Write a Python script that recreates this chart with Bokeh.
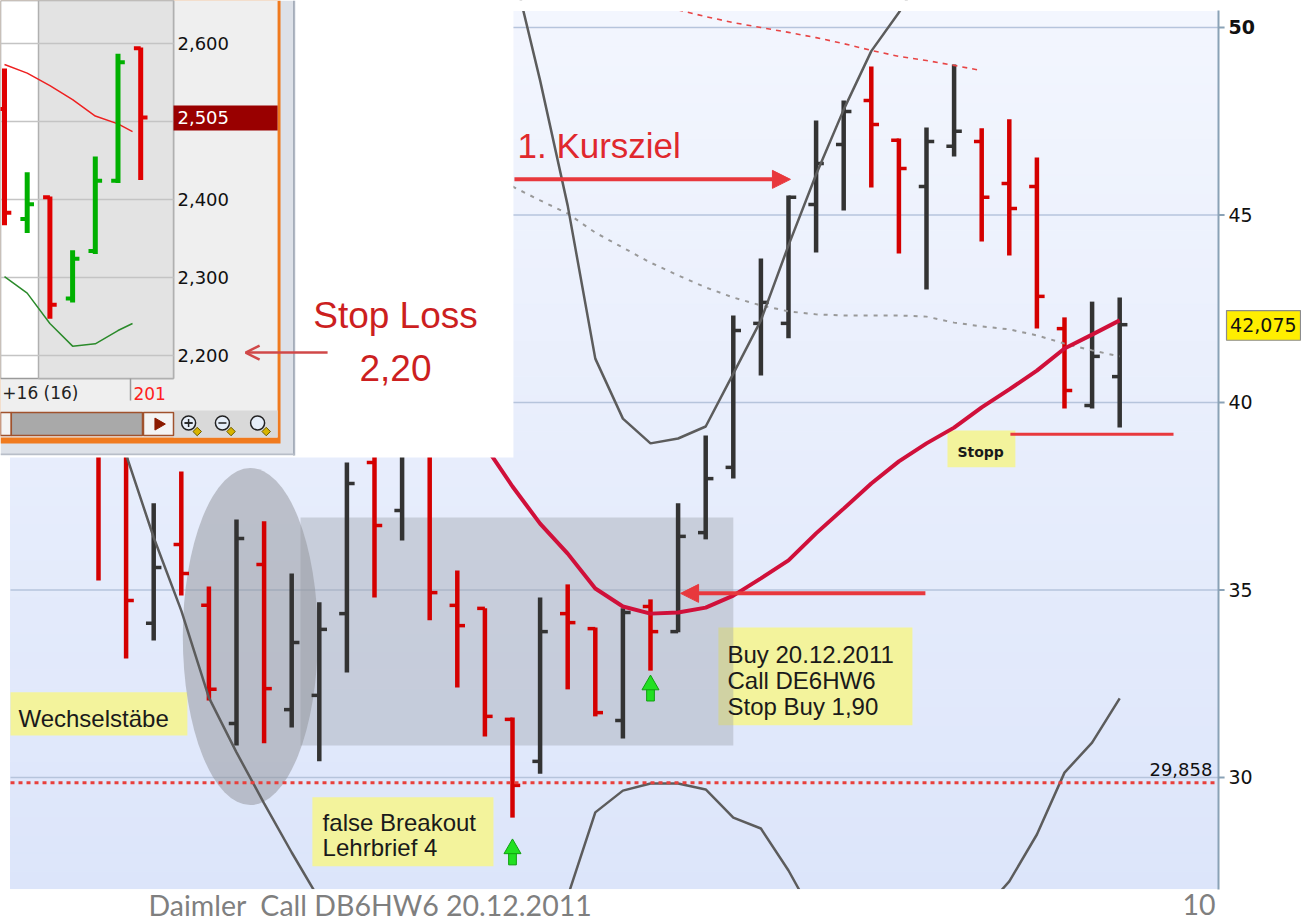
import numpy as np
from bokeh.plotting import figure
from bokeh.models import Range1d, Arrow, NormalHead, OpenHead
from bokeh.core.properties import value
from bokeh.embed import file_html
from bokeh.resources import INLINE

NaN = float("nan")

# ---------------- main chart data (daily OHLC of the call) ----------------
bar_idx = list(range(38))
bar_open = [41.0, 39.5, 34.11, 36.21, 34.59, 31.44, 35.68, 31.81, 32.19, 34.37,
            38.4, 37.12, 39.0, 34.59, 34.51, 31.55, 30.43, 34.37, 33.97, 31.52,
            34.56, 33.89, 36.53, 38.27, 42.11, 42.11, 45.28, 46.88, 48.05, 46.99,
            45.76, 46.83, 46.96, 45.84, 45.76, 41.97, 39.92, 40.69]
bar_high = [41.5, 40.0, 37.31, 38.16, 35.09, 36.88, 36.83, 35.44, 34.67, 38.4,
            39.0, 39.8, 39.6, 35.52, 34.51, 31.6, 34.8, 35.15, 34.0, 34.51,
            34.75, 37.31, 39.12, 42.32, 43.84, 45.52, 47.52, 48.05, 48.96, 47.04,
            47.33, 49.01, 47.31, 47.55, 46.53, 42.27, 42.69, 42.8]
bar_low = [35.25, 33.17, 33.65, 34.85, 32.05, 30.85, 30.91, 31.33, 30.43, 32.8,
           34.8, 36.32, 34.19, 32.4, 31.09, 28.93, 30.1, 32.35, 31.63, 31.04,
           32.85, 33.87, 36.35, 37.97, 40.72, 41.71, 44.0, 45.12, 45.73, 43.97,
           43.01, 46.56, 44.29, 43.92, 41.97, 39.84, 39.84, 39.33]
bar_close = [39.0, 34.72, 35.6, 35.44, 32.35, 36.37, 32.37, 33.6, 33.95, 37.84,
             36.72, 39.3, 34.93, 34.05, 31.63, 29.79, 33.89, 34.13, 31.73, 34.4,
             33.89, 36.43, 37.97, 41.92, 42.67, 45.47, 46.37, 47.76, 47.41, 46.24,
             46.96, 47.23, 45.47, 45.17, 42.83, 40.32, 41.23, 42.075]

# indicator lines (NaN where outside the visible picture)
bb_upper = [NaN] * 15 + [51.65, 48.59, 45.25, 41.17, 39.57, 38.91, 39.04, 39.36, 40.77,
                         42.19, 44.19, 46.08, 47.81, 49.37, 50.4, 51.6] + [NaN] * 7
bb_lower = ([NaN, 38.61, 36.4, 34.45, 32.13, 30.67, 29.31, 28.0, 26.75] + [NaN] * 8 +
            [26.83, 29.07, 29.65, 29.84, 29.84, 29.68, 28.93, 28.64, 27.52, 26.19] +
            [NaN] * 5 + [26.4, 27.23, 28.48, 30.13, 30.93, 32.11])
bb_mid = [NaN] * 14 + [38.85, 37.76, 36.77, 35.97, 35.04, 34.56, 34.37, 34.40, 34.53, 34.85,
                       35.31, 35.79, 36.51, 37.17, 37.84, 38.43, 38.91, 39.33, 39.87, 40.35,
                       40.85, 41.44, 41.81, 42.19]
ma_long = [NaN] * 15 + [45.76, 45.39, 45.04, 44.53, 44.13, 43.73, 43.39, 43.07, 42.80, 42.59,
                        42.43, 42.35, 42.32, 42.32, 42.32, 42.29, 42.13, 42.03, 41.95, 41.79,
                        41.57, 41.39, 41.23]
env_upper = [NaN] * 21 + [50.47, 50.29, 50.13, 50.0, 49.87, 49.73, 49.57, 49.39, 49.23,
                          49.12, 48.99, 48.85] + [NaN] * 5

y_ticks = [30, 35, 40, 45, 50]
y_tick_labels = ["30", "35", "40", "45", "50"]
support_level = 29.858
last_price = 42.075
stop_level = 39.15
kursziel_level = 45.95
buy_level = 34.91
signal_idx = [15, 20]
signal_price = [28.0, 32.37]

# ---------------- inset chart data (zoomed call chart) ----------------
in_idx = [0, 1, 2, 3, 4, 5, 6]
in_open = [2.516, 2.375, 2.403, 2.273, 2.334, 2.424, 2.594]
in_high = [2.568, 2.435, 2.404, 2.335, 2.455, 2.587, 2.595]
in_low = [2.367, 2.357, 2.247, 2.268, 2.330, 2.421, 2.425]
in_close = [2.383, 2.394, 2.265, 2.324, 2.424, 2.576, 2.505]
in_line_x = [0, 1, 2, 3, 4, 5, 5.64]
in_red_line = [2.573, 2.562, 2.546, 2.528, 2.507, 2.497, 2.487]
in_green_line = [2.301, 2.28, 2.241, 2.212, 2.215, 2.232, 2.241]
in_ticks = [2.6, 2.5, 2.4, 2.3, 2.2]
in_tick_labels = ["2,600", "2,500", "2,400", "2,300", "2,200"]
in_last = 2.505

# ---------------- ranges ----------------
# whole canvas in main units, and the main chart area inside it
FX0, FX1 = -3.5507, 43.587
FY0, FY1 = 26.1333, 50.72
MX0, MX1 = -3.188, 40.58
MY0, MY1 = 27.01, 50.453
# whole canvas in inset units
IX0, IX1 = -0.1762, 57.137
IY0, IY1 = 1.47308, 2.65513

p = figure(x_range=Range1d(FX0, FX1), y_range=Range1d(FY0, FY1),
           frame_width=1301, frame_height=922, min_border=0,
           x_axis_location=None, y_axis_location=None,
           toolbar_location=None, output_backend="svg")
p.extra_x_ranges = {"ix": Range1d(IX0, IX1)}
p.extra_y_ranges = {"iy": Range1d(IY0, IY1)}
p.outline_line_color = None
p.border_fill_color = "white"
p.background_fill_color = "white"
p.grid.visible = False

# gradient background of the chart area
n_b = 48
edges = np.linspace(MY0, MY1, n_b + 1)
t = (np.arange(n_b) + 0.5) / n_b
c_bot = np.array([220, 229, 250])
c_top = np.array([243, 246, 254])
bcols = ["#%02x%02x%02x" % tuple(np.round(c_bot + (c_top - c_bot) * ti).astype(int)) for ti in t]
p.quad(left=MX0, right=MX1, bottom=list(edges[:-1]), top=list(edges[1:]),
       fill_color=bcols, line_color=bcols, line_width=1)

# horizontal grid
p.segment(x0=[MX0] * len(y_ticks), y0=y_ticks, x1=[MX1] * len(y_ticks), y1=y_ticks,
          line_color="#b6c4dc", line_width=1.5)

YEL = "#f3f39c"
notes_l = [22.46, MX0, 7.75, 30.76]
notes_r = [29.49, 3.22, 14.31, 33.22]
notes_b = [31.39, 31.12, 27.63, 38.27]
notes_t = [34.0, 32.27, 29.47, 39.25]
p.quad(left=notes_l, right=notes_r, bottom=notes_b, top=notes_t, fill_color=YEL, line_color=None)

# consolidation box and ellipse
p.quad(left=[7.32], right=[23.0], bottom=[30.85], top=[36.93],
       fill_color="#a0a4ae", fill_alpha=0.42, line_color=None)
p.ellipse(x=[5.5], y=[33.76], width=[4.89], height=[8.99],
          fill_color="#909298", fill_alpha=0.5, line_color=None)

# OHLC bars
cols = ["#d40000" if c < o else "#333333" for o, c in zip(bar_open, bar_close)]
tk = 0.28
p.segment(x0=bar_idx, y0=bar_low, x1=bar_idx, y1=bar_high, line_color=cols, line_width=4.5)
p.segment(x0=[i - tk for i in bar_idx], y0=bar_open, x1=bar_idx, y1=bar_open,
          line_color=cols, line_width=3.5)
p.segment(x0=bar_idx, y0=bar_close, x1=[i + tk for i in bar_idx], y1=bar_close,
          line_color=cols, line_width=3.5)

# indicator lines
p.line(bar_idx, ma_long, line_color="#999999", line_width=2, line_dash="4 6")
p.line(bar_idx, env_upper, line_color="#e84545", line_width=1.6, line_dash="5 5")
p.line(bar_idx, bb_upper, line_color="#5c5c5c", line_width=2.5)
p.line(bar_idx, bb_lower, line_color="#5c5c5c", line_width=2.5)
p.line(bar_idx, bb_mid, line_color="#d0103a", line_width=4)

# support line and stop line
p.line([MX0, MX1], [support_level, support_level], line_color="#e8403c", line_width=3, line_dash="4 4")
p.line([33.04, 38.95], [stop_level, stop_level], line_color="#e8383d", line_width=3)

# green signal arrows
p.vbar(x=signal_idx, bottom=[v - 0.33 for v in signal_price], top=[v + 0.02 for v in signal_price],
       width=0.28, fill_color="#22e022", line_color="#10a010", line_width=1)
p.scatter(x=signal_idx, y=[v + 0.1 for v in signal_price], marker="triangle", size=17,
          fill_color="#22e022", line_color="#10a010", line_width=1)

# white masks around the chart area (top and bottom page margins)
p.quad(left=[FX0, FX0], right=[FX1, FX1], bottom=[MY1, FY0], top=[FY1, MY0],
       fill_color="white", line_color="white", line_width=1)

# right price axis
p.segment(x0=[MX1], y0=[MY0], x1=[MX1], y1=[MY1], line_color="#8aa2b6", line_width=2)
p.segment(x0=[MX1] * len(y_ticks), y0=y_ticks, x1=[MX1 + 0.22] * len(y_ticks), y1=y_ticks,
          line_color="#8aa2b6", line_width=2)
p.text(x=[MX1 + 0.36] * 4, y=y_ticks[:4], text=y_tick_labels[:4], text_font=value("DejaVu Sans"),
       text_font_size="19px", text_color="#111111", text_baseline="middle")
p.text(x=[MX1 + 0.36], y=y_ticks[4:], text=y_tick_labels[4:], text_font=value("DejaVu Sans"),
       text_font_size="19px", text_font_style="bold", text_color="#111111", text_baseline="middle")
# last price marker
p.quad(left=[40.87], right=[43.55], bottom=[41.66], top=[42.45], fill_color="#ffee00",
       line_color="#8c8c8c", line_width=1.2)
p.text(x=[41.0], y=[last_price], text=["42,075"], text_font=value("DejaVu Sans"),
       text_font_size="19px", text_color="#111111", text_baseline="middle")

FONT = value("Liberation Sans")
p.text(x=[22.79, 22.79, 22.79], y=[33.29, 32.59, 31.89],
       text=["Buy 20.12.2011", "Call DE6HW6", "Stop Buy 1,90"],
       text_font=FONT, text_font_size="24px", text_color="#1a1a1a", text_baseline="middle")
p.text(x=[-2.9], y=[31.57], text=["Wechselstäbe"], text_font=FONT, text_font_size="24px",
       text_color="#1a1a1a", text_baseline="middle")
p.text(x=[8.12, 8.12], y=[28.81, 28.12], text=["false Breakout", "Lehrbrief 4"], text_font=FONT,
       text_font_size="24px", text_color="#1a1a1a", text_baseline="middle")
p.text(x=[31.12], y=[38.69], text=["Stopp"], text_font=value("DejaVu Sans"), text_font_size="14px",
       text_font_style="bold", text_color="#1a1a1a", text_baseline="middle")
p.text(x=[40.36], y=[30.2], text=["29,858"], text_font=value("DejaVu Sans"), text_font_size="18px",
       text_color="#111111", text_baseline="middle", text_align="right")
p.text(x=[15.18], y=[46.84], text=["1. Kursziel"], text_font=FONT, text_font_size="35px",
       text_color="#e0282d", text_baseline="middle")

# footer of the slide
p.text(x=[1.81], y=[26.6], text=["Daimler\u00a0 Call DB6HW6 20.12.2011"], text_font=value("Lato"),
       text_font_size="28.5px", text_color="#7f7f7f", text_baseline="middle")
p.text(x=[40.47], y=[26.6], text=["10"], text_font=value("Lato"), text_font_size="28.5px",
       text_color="#7f7f7f", text_baseline="middle", text_align="right")

# ---------------- inset (screenshot of the call chart) ----------------
R = dict(x_range_name="ix", y_range_name="iy")
p.quad(left=[IX0], right=[22.42], bottom=[2.0692], top=[IY1], fill_color="white", line_color=None, **R)
p.quad(left=[IX0], right=[12.82], bottom=[2.0718], top=[IY1], fill_color="#dde1e8",
       line_color=None, **R)
p.segment(x0=[12.75], y0=[2.0718], x1=[12.75], y1=[IY1], line_color="#9aa3b0", line_width=1.5, **R)
p.segment(x0=[IX0], y0=[2.0735], x1=[12.75], y1=[2.0735], line_color="#b8bec8", line_width=1.5, **R)
p.quad(left=[IX0], right=[12.16], bottom=[2.0872], top=[IY1], fill_color="#f07a1e", line_color=None, **R)
p.quad(left=[IX0], right=[12.03], bottom=[2.0949], top=[IY1], fill_color="#efefef", line_color=None, **R)
p.quad(left=[IX0], right=[7.445], bottom=[2.1705], top=[IY1], fill_color="white",
       line_color="#9a9a9a", line_width=1.5, **R)
p.quad(left=[1.498], right=[7.445], bottom=[2.1705], top=[IY1], fill_color="#e3e3e3",
       line_color="#b0b0b0", line_width=1.5, **R)
p.segment(x0=[IX0] * 5, y0=in_ticks, x1=[7.445] * 5, y1=in_ticks, line_color="#c4c4c4", line_width=1.5, **R)
# toolbar strip, scrollbar, button
p.quad(left=[7.445], right=[12.03], bottom=[2.0949], top=[2.1295], fill_color="#d9d9d9", line_color=None, **R)
p.quad(left=[IX0], right=[0.3], bottom=[2.0974], top=[2.1269], fill_color="#f4f4f4",
       line_color="#a0522d", line_width=1.5, **R)
p.quad(left=[0.3], right=[6.079], bottom=[2.0974], top=[2.1269], fill_color="#a9a9a9",
       line_color="#a0522d", line_width=1.5, **R)
p.quad(left=[6.123], right=[7.445], bottom=[2.0974], top=[2.1269], fill_color="#f4f4f4",
       line_color="#a0522d", line_width=1.5, **R)
p.scatter(x=[6.78], y=[2.1121], marker="triangle", angle=-np.pi / 2, size=12,
          fill_color="#8b1a00", line_color="#8b1a00", **R)
mag_x = [8.11, 9.6, 11.15]
p.scatter(x=[m + 0.38 for m in mag_x], y=[2.1025] * 3, marker="square", angle=np.pi / 4, size=6,
          fill_color="#d8b400", line_color="#6a5a00", **R)
p.scatter(x=mag_x, y=[2.1135] * 3, marker="circle", size=14, fill_color="#e6eef8",
          line_color="#222222", line_width=1.5, **R)
p.scatter(x=mag_x[:2], y=[2.1135] * 2, marker="dash", size=8, line_color="#222222", line_width=1.5, **R)
p.scatter(x=mag_x[:1], y=[2.1135], marker="cross", size=8, line_color="#222222", line_width=1.5, **R)
# x-axis strip text
p.segment(x0=[5.551], y0=[2.1705], x1=[5.551], y1=[2.1423], line_color="#9a9a9a", line_width=1.5, **R)
p.text(x=[3.26], y=[2.1513], text=["+16 (16)"], text_font=value("DejaVu Sans"), text_font_size="17px",
       text_color="#222222", text_align="right", text_baseline="middle", **R)
p.text(x=[5.68], y=[2.1513], text=["201"], text_font=value("DejaVu Sans"), text_font_size="17px",
       text_color="#ff2020", text_baseline="middle", **R)
# inset lines and bars
p.line(in_line_x, in_red_line, line_color="#ee2020", line_width=1.5, **R)
p.line(in_line_x, in_green_line, line_color="#2a8a2a", line_width=1.5, **R)
icol = ["#e00000" if c < o else "#00b000" for o, c in zip(in_open, in_close)]
itk = 0.3
p.segment(x0=in_idx, y0=in_low, x1=in_idx, y1=in_high, line_color=icol, line_width=5, **R)
p.segment(x0=[i - itk for i in in_idx], y0=in_open, x1=in_idx, y1=in_open, line_color=icol, line_width=4, **R)
p.segment(x0=in_idx, y0=in_close, x1=[i + itk for i in in_idx], y1=in_close, line_color=icol, line_width=4, **R)
# inset price axis labels
p.quad(left=[7.445], right=[12.03], bottom=[in_last - 0.0165], top=[in_last + 0.0155],
       fill_color="#990000", line_color=None, **R)
lab_t = [v for v in in_ticks if v != 2.5]
lab_s = [s for v, s in zip(in_ticks, in_tick_labels) if v != 2.5]
p.text(x=[7.62] * len(lab_t), y=lab_t, text=lab_s, text_font=value("DejaVu Sans"), text_font_size="18px",
       text_color="#111111", text_baseline="middle", **R)
p.text(x=[7.62], y=[in_last], text=["2,505"], text_font=value("DejaVu Sans"), text_font_size="18px",
       text_color="white", text_baseline="middle", **R)

# Stop Loss note over the inset
p.text(x=[10.76, 10.76], y=[42.32, 40.93], text=["Stop Loss", "2,20"], text_font=FONT,
       text_font_size="37px", text_color="#cc1f1f", text_align="center", text_baseline="middle")

# ---------------- arrows ----------------
p.add_layout(Arrow(end=NormalHead(size=18, fill_color="#e8383d", line_color="#e8383d"),
                   x_start=15.07, y_start=kursziel_level, x_end=25.07, y_end=kursziel_level,
                   line_color="#e8383d", line_width=4))
p.add_layout(Arrow(end=NormalHead(size=18, fill_color="#e8383d", line_color="#e8383d"),
                   x_start=29.96, y_start=buy_level, x_end=21.09, y_end=buy_level,
                   line_color="#e8383d", line_width=4))
p.add_layout(Arrow(end=OpenHead(size=14, line_color="#d04848", line_width=2.5),
                   x_start=8.30, y_start=41.33, x_end=5.33, y_end=41.33,
                   line_color="#d04848", line_width=2.5))

open("out.html", "w").write(file_html(p, INLINE))
